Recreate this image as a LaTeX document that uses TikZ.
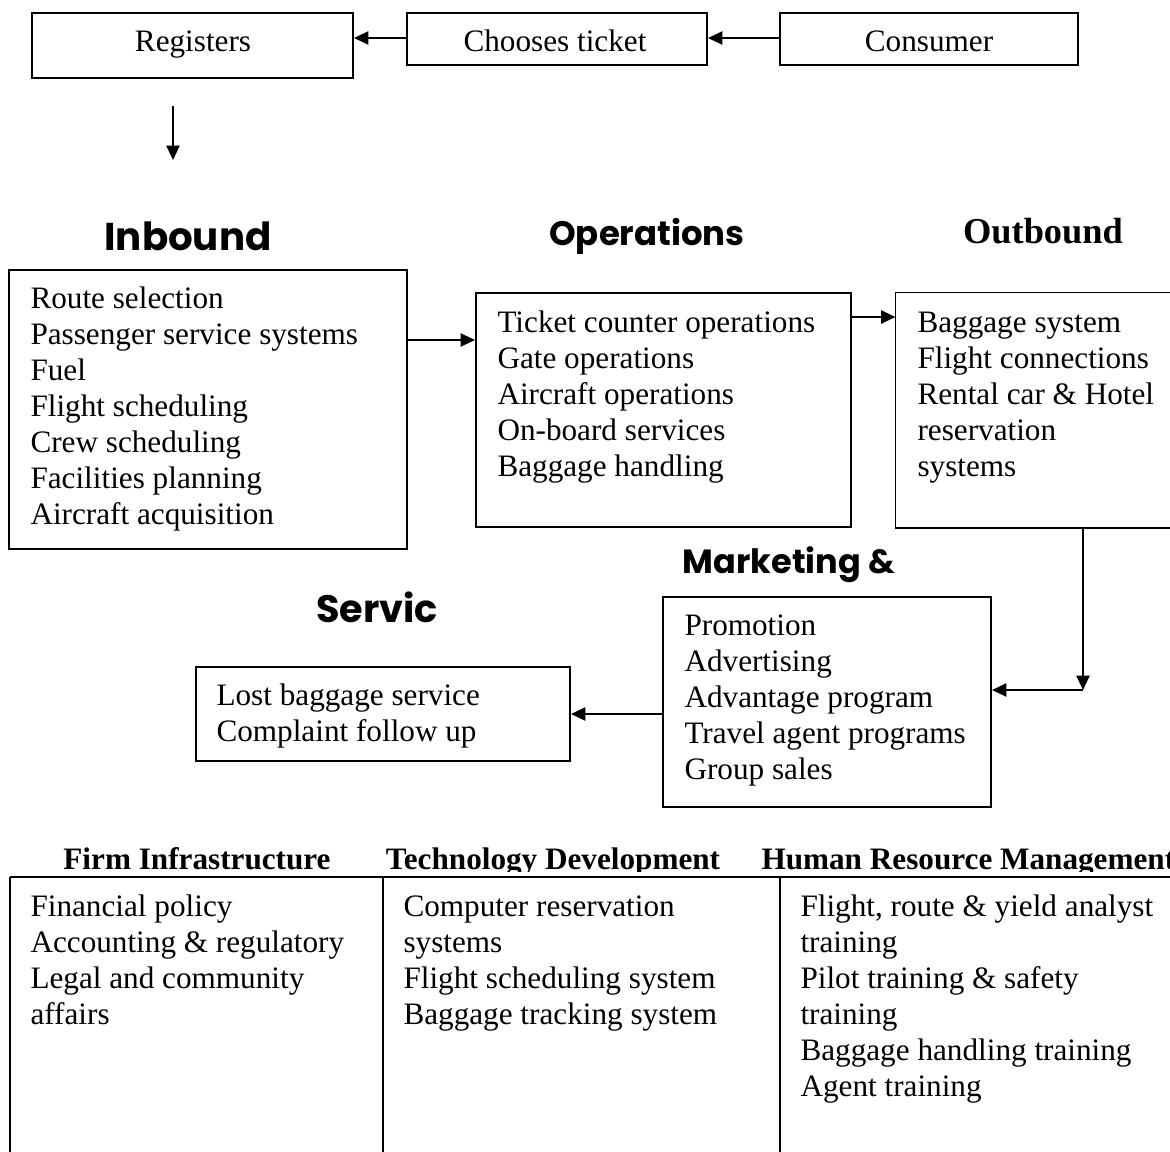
\documentclass[tikz,border=0pt]{standalone}
\usepackage{fontspec}
\setmainfont{Liberation Serif}
\newfontfamily\hfont{Poppins}
\usetikzlibrary{arrows.meta,fit}
\newcommand\blist[1]{\begin{tabular}[t]{@{}l@{}}#1\end{tabular}}
\begin{document}
\begin{tikzpicture}[x=0.3846pt,y=-0.3846pt,
  box/.style={draw, line width=0.75pt, inner sep=0pt},
  ghost/.style={draw=none, inner sep=0pt},
  edge/.style={line width=0.75pt},
  txt/.style={inner sep=0pt, anchor=base west, font=\fontsize{12}{13.85}\selectfont},
  ctxt/.style={txt, anchor=base},
  hsans/.style={inner sep=0pt, anchor=base},
  hserif/.style={inner sep=0pt, anchor=base, font=\bfseries\fontsize{14}{16}\selectfont},
  colhead/.style={inner sep=0pt, anchor=base, font=\bfseries\fontsize{12}{13.85}\selectfont},
  arr/.style={line width=0.75pt, -{Triangle[length=5.5pt,width=5pt]}}
]
\useasboundingbox (0,0) rectangle (1170,1151);
\fill[white] (0,0) rectangle (1170,1151);

% top row
\node[box, fit={(32,13) (353,78)}] (reg) {};
\node[ctxt] (treg) at (193,51) {Registers};
\node[box, fit={(407,13) (707,65)}] (cho) {};
\node[ctxt] (tcho) at (555,51) {Chooses ticket};
\node[box, fit={(780,13) (1078,65)}] (con) {};
\node[ctxt] (tcon) at (929,51) {Consumer};
\coordinate (ya) at (0,38);
\draw[arr] (cho.west |- ya) -- (reg.east |- ya);
\draw[arr] (con.west |- ya) -- (cho.east |- ya);
\coordinate (da) at (173,106);
\coordinate (db) at (173,160);
\draw[arr] (da) -- (db);

% headings
\node[hsans, font=\hfont\bfseries\fontsize{14.9}{18}\selectfont] (hin) at (188,250) {Inbound};
\node[hsans, font=\hfont\bfseries\fontsize{13.05}{16}\selectfont] (hops) at (647,245) {Operations};
\node[hserif] (hout) at (1043,243) {Outbound};
\node[hsans, font=\hfont\bfseries\fontsize{12.9}{16}\selectfont] (hmkt) at (789,573) {Marketing \&};
\node[hsans, font=\hfont\bfseries\fontsize{14.7}{18}\selectfont] (hsvc) at (377,622) {Servic};

% inbound
\node[box, fit={(9,270) (407,549)}] (inb) {};
\node[txt] (tinb) at (30,308) {\blist{Route selection\\Passenger service systems\\Fuel\\Flight scheduling\\Crew scheduling\\Facilities planning\\Aircraft acquisition}};

% operations
\node[box, fit={(476,293) (851,527)}] (ops) {};
\node[txt] (tops) at (497,332) {\blist{Ticket counter operations\\Gate operations\\Aircraft operations\\On-board services\\Baggage handling}};

% outbound (open to the right)
\node[ghost, fit={(896,293) (1180,527)}] (outb) {};
\draw[edge] (outb.north east) -- (outb.north west) -- (outb.south west) -- (outb.south east);
\node[txt] (tout) at (917,332) {\blist{Baggage system\\Flight connections\\Rental car \& Hotel\\reservation\\systems}};

% marketing
\node[box, fit={(663,597) (991,807)}] (mkt) {};
\node[txt] (tmkt) at (684,635) {\blist{Promotion\\Advertising\\Advantage program\\Travel agent programs\\Group sales}};

% service
\node[box, fit={(196,667) (570,761)}] (svc) {};
\node[txt] (tsvc) at (216,705) {\blist{Lost baggage service\\Complaint follow up}};

% connectors
\coordinate (y1) at (0,340);
\draw[arr] (inb.east |- y1) -- (ops.west |- y1);
\coordinate (y2) at (0,317);
\draw[arr] (ops.east |- y2) -- (outb.west |- y2);
\coordinate (cx) at (1083,690);
\draw[arr] (outb.south -| cx) -- (cx);
\draw[arr] (cx) -- (mkt.east |- cx);
\coordinate (y3) at (0,714);
\draw[arr] (mkt.west |- y3) -- (svc.east |- y3);

% support activities
\begin{scope}
\clip (0,0) rectangle (1180,871);
\node[colhead] (h1) at (197,869) {Firm Infrastructure};
\node[colhead] (h2) at (553,869) {Technology Development};
\node[colhead, anchor=base west] (h3) at (761,869) {Human Resource Management};
\end{scope}
\draw[edge] (10,877) -- (1180,877);
\draw[edge] (10,877) -- (10,1160);
\draw[edge] (383,877) -- (383,1160);
\draw[edge] (780,877) -- (780,1160);
\node[txt] (c1) at (30,916) {\blist{Financial policy\\Accounting \& regulatory\\Legal and community\\affairs}};
\node[txt] (c2) at (403,916) {\blist{Computer reservation\\systems\\Flight scheduling system\\Baggage tracking system}};
\node[txt] (c3) at (800,916) {\blist{Flight, route \& yield analyst\\training\\Pilot training \& safety\\training\\Baggage handling training\\Agent training}};
\end{tikzpicture}
\end{document}
